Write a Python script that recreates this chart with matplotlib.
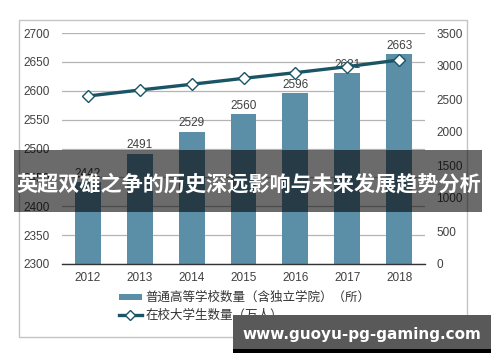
import matplotlib.pyplot as plt
from matplotlib.patches import Rectangle
from matplotlib.lines import Line2D
from matplotlib.patches import Patch

# 数据
years = ["2012", "2013", "2014", "2015", "2016", "2017", "2018"]
schools = [2442, 2491, 2529, 2560, 2596, 2631, 2663]          # 普通高等学校数量（所）
students = [2545, 2636, 2723, 2813, 2899, 2990, 3091]         # 在校大学生数量（万人）
left_ticks = [2300, 2350, 2400, 2450, 2500, 2550, 2600, 2650, 2700]
right_ticks = [0, 500, 1000, 1500, 2000, 2500, 3000, 3500]

bar_label = "普通高等学校数量（含独立学院）（所）"
line_label = "在校大学生数量（万人）"
banner_text = "英超双雄之争的历史深远影响与未来发展趋势分析"
watermark = "www.guoyu-pg-gaming.com"

plt.rcParams['font.family'] = ['Liberation Sans', 'Noto Sans CJK SC', 'DejaVu Sans']

W, H = 500, 362
fig = plt.figure(figsize=(5, 3.62), dpi=100)

def fx(px):
    return px / W

def fy(py):
    return 1 - py / H

bar_color = "#5b8ea7"
line_color = "#1a5566"
grid_color = "#b4b4b4"
text_color = "#404040"

ax = fig.add_axes([fx(62), fy(264), fx(425) - fx(62), fy(33) - fy(264)])
x = list(range(len(years)))
ax.bar(x, schools, width=0.5, color=bar_color, zorder=2)
for xi, v in zip(x, schools):
    ax.text(xi, v + 4, str(v), ha="center", va="bottom", fontsize=8.5, color=text_color, zorder=3)

ax.set_ylim(2300, 2700)
ax.set_yticks(left_ticks)
ax.set_xlim(-0.5, len(years) - 0.5)
ax.set_xticks(x)
ax.set_xticklabels(years)
ax.tick_params(axis="both", length=0, labelsize=8.5, labelcolor=text_color)
ax.tick_params(axis="y", pad=9)
ax.tick_params(axis="x", pad=6)
ax.yaxis.grid(True, color=grid_color, lw=0.9, zorder=0)
ax.set_axisbelow(True)
for s in ["top", "left", "right"]:
    ax.spines[s].set_visible(False)
ax.spines["bottom"].set_color("#333333")
ax.spines["bottom"].set_linewidth(1.0)

ax2 = ax.twinx()
ax2.plot(x, students, color=line_color, lw=2.4, marker="D", markersize=6.5,
         markerfacecolor="white", markeredgecolor=line_color, markeredgewidth=1.0, zorder=4)
ax2.set_ylim(0, 3500)
ax2.set_yticks(right_ticks)
ax2.tick_params(axis="y", length=0, labelsize=8.5, labelcolor=text_color, pad=8)
for s in ["top", "left", "right", "bottom"]:
    ax2.spines[s].set_visible(False)

handles = [
    Patch(facecolor=bar_color, edgecolor="none"),
    Line2D([0], [0], color=line_color, lw=2.4, marker="D", markersize=5,
           markerfacecolor="white", markeredgecolor=line_color, markeredgewidth=1.0),
]
fig.legend(handles, [bar_label, line_label], loc="upper left",
           bbox_to_anchor=(fx(119), fy(292)), frameon=False, fontsize=9,
           handlelength=1.8, handleheight=0.4, handletextpad=0.3, labelspacing=0.4,
           borderpad=0, borderaxespad=0, labelcolor="#333333")

# 外框
fig.patches.append(Rectangle((fx(19), fy(337)), fx(467) - fx(19), fy(20) - fy(337),
                             transform=fig.transFigure, fill=False, edgecolor="#c4c4c4", lw=1.0))

# 横幅
fig.patches.append(Rectangle((fx(14), fy(212)), fx(482) - fx(14), fy(150) - fy(212),
                             transform=fig.transFigure, facecolor="black", alpha=0.58,
                             edgecolor="none", zorder=10))
fig.text(fx(249), fy(184), banner_text, ha="center", va="center", color="white",
         fontsize=15.2, fontweight="bold", family=["Noto Sans CJK SC", "DejaVu Sans"], zorder=11)

# 水印
fig.patches.append(Rectangle((fx(233), fy(349)), fx(491) - fx(233), fy(315) - fy(349),
                             transform=fig.transFigure, facecolor="#595959", edgecolor="none", zorder=10))
fig.patches.append(Rectangle((fx(233), fy(353)), fx(491) - fx(233), fy(349) - fy(353),
                             transform=fig.transFigure, facecolor="black", edgecolor="none", zorder=10))
fig.text(fx(362), fy(335), watermark, ha="center", va="center", color="white",
         fontsize=11, fontweight="bold", family="DejaVu Sans", zorder=11)

fig.savefig("out.png", dpi=100)
